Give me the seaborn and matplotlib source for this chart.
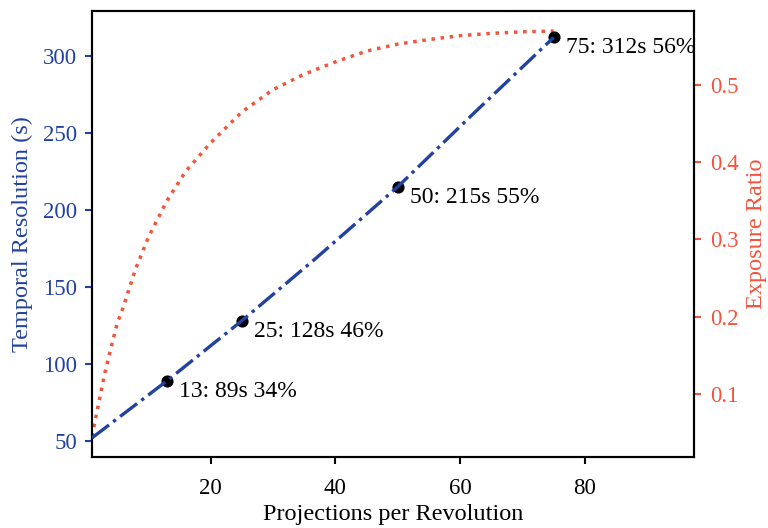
import matplotlib
matplotlib.use("Agg")
import matplotlib.pyplot as plt
import seaborn as sns
import pandas as pd

# Data
proj_line = [1, 13, 25, 37, 50, 62, 75]
temporal_line = [52, 89, 128, 169, 215, 262, 312]

proj_ratio = [1, 2, 3, 4, 5, 6, 8, 10, 13, 16, 20, 25, 30, 35, 40, 45, 50, 55, 60, 65, 70, 75]
exposure_ratio = [0.045, 0.085, 0.125, 0.158, 0.190, 0.212, 0.262, 0.302, 0.350, 0.388,
                  0.425, 0.465, 0.494, 0.514, 0.530, 0.544, 0.553, 0.559, 0.564, 0.567,
                  0.569, 0.570]

marked_proj = [13, 25, 50, 75]
marked_temporal = [89, 128, 215, 312]
marked_labels = ["13: 89s 34%", "25: 128s 46%", "50: 215s 55%", "75: 312s 56%"]

BLUE = "#2142a0"
RED = "#f4533c"

sns.set_style("ticks")
plt.rcParams["font.family"] = ["Liberation Serif", "DejaVu Serif"]
plt.rcParams["axes.linewidth"] = 1.5

fig = plt.figure(figsize=(7.68, 5.28), dpi=100)
ax = fig.add_axes([0.1198, 0.1345, 0.7838, 0.8447])
ax2 = ax.twinx()

df_line = pd.DataFrame({"x": proj_line, "y": temporal_line})
df_ratio = pd.DataFrame({"x": proj_ratio, "y": exposure_ratio})
df_mark = pd.DataFrame({"x": marked_proj, "y": marked_temporal})

sns.lineplot(data=df_ratio, x="x", y="y", ax=ax2, color=RED, linestyle=":", linewidth=2.5)
sns.scatterplot(data=df_mark, x="x", y="y", ax=ax, color="black", s=60, edgecolor="black",
                linewidth=1, zorder=2)
sns.lineplot(data=df_line, x="x", y="y", ax=ax, color=BLUE, linestyle="-.", linewidth=2.4, zorder=3)

ax.set_zorder(ax2.get_zorder() + 1)
ax.patch.set_visible(False)

for xv, yv, lab in zip(marked_proj, marked_temporal, marked_labels):
    ax.annotate(lab, (xv, yv), xytext=(9, -7.5), textcoords="offset points",
                ha="left", va="center", fontsize=17, color="black")

ax.set_xlim(1, 97.5)
ax.set_ylim(39.6, 329.2)
ax2.set_ylim(0.018, 0.596)
ax.set_xticks([20, 40, 60, 80])
ax.set_yticks([50, 100, 150, 200, 250, 300])
ax2.set_yticks([0.1, 0.2, 0.3, 0.4, 0.5])

ax.set_xlabel("Projections per Revolution", fontsize=17.5, color="black", labelpad=4)
ax.set_ylabel("Temporal Resolution (s)", fontsize=17.5, color=BLUE, labelpad=7.5)
ax2.set_ylabel("Exposure Ratio", fontsize=17.5, color=RED, labelpad=5)

ax.tick_params(axis="x", colors="black", labelsize=16.5, width=1.5, length=5, pad=10)
ax.tick_params(axis="y", colors=BLUE, labelcolor=BLUE, labelsize=16.5, width=1.5, length=5, pad=5.5)
ax2.tick_params(axis="y", colors=RED, labelcolor=RED, labelsize=16.5, width=1.5, length=5, pad=6.5)

for a in (ax, ax2):
    for s in a.spines.values():
        s.set_color("black")
        s.set_linewidth(1.5)

fig.savefig("out.png", dpi=100)
